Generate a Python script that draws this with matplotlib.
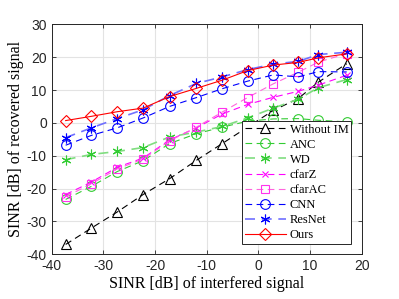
import matplotlib
matplotlib.use("Agg")
import matplotlib.pyplot as plt

# input SINR (x axis) and output SINR per method
sinr_in = [-37.3, -32.3, -27.3, -22.3, -17.2, -12.0, -7.0, -2.1, 2.9, 7.7, 11.6, 17.1]

without_im = [-37.0, -32.0, -27.1, -21.8, -17.0, -11.4, -6.3, -1.3, 3.8, 7.4, 12.4, 18.0]
anc = [-23.3, -19.3, -14.8, -11.5, -6.3, -3.3, -1.3, 0.5, 1.2, 1.3, 0.8, 0.3]
wd = [-11.2, -9.6, -8.7, -7.5, -4.3, -2.8, -1.1, 1.5, 4.5, 7.2, 10.7, 13.2]
cfarz = [-21.8, -18.0, -13.5, -10.7, -5.2, -1.5, 2.7, 5.6, 7.8, 9.6, 11.5, 14.5]
cfarac = [-22.5, -18.5, -14.0, -11.0, -5.5, -1.3, 3.3, 7.7, 11.9, 15.4, 18.5, 21.1]
cnn = [-6.8, -3.8, -1.5, 1.5, 5.0, 7.7, 10.4, 12.7, 14.6, 14.0, 15.6, 15.5]
resnet = [-4.5, -1.5, 1.3, 4.0, 8.3, 12.0, 14.0, 16.2, 17.9, 18.7, 20.8, 21.5]
ours = [0.7, 2.0, 3.4, 4.5, 8.0, 10.5, 13.0, 15.9, 17.6, 18.4, 19.8, 21.0]

plt.rcParams['axes.unicode_minus'] = False

fig = plt.figure(figsize=(3.99, 2.99), dpi=100)
ax = fig.add_axes([0.1296, 0.1495, 0.777, 0.7692])

dash = (0, (6, 4))
ms = 7
ax.plot(sinr_in, without_im, color='k', ls=dash, lw=0.8, marker='^', ms=ms, mfc='none', mew=0.8, label='Without IM')
ax.plot(sinr_in, anc, color='#33cc33', ls=dash, lw=0.8, marker='o', ms=ms, mfc='none', mew=0.8, label='ANC')
ax.plot(sinr_in, wd, color='#80dd80', ls=dash, lw=1.2, marker=(6, 2, 0), ms=ms, mec='#33cc33', mew=0.8, label='WD')
ax.plot(sinr_in, cfarz, color='#ff00ff', ls=dash, lw=0.8, marker='x', ms=5, mew=0.8, label='cfarZ')
ax.plot(sinr_in, cfarac, color='#ff66dd', ls=dash, lw=0.8, marker='s', ms=6, mfc='none', mec='#ff33ee', mew=0.8, label='cfarAC')
ax.plot(sinr_in, cnn, color='#0000ff', ls=dash, lw=0.8, marker='o', ms=ms, mfc='none', mew=0.8, label='CNN')
ax.plot(sinr_in, resnet, color='#7070ff', ls=dash, lw=1.2, marker=(6, 2, 0), ms=ms, mec='#0000ff', mew=0.8, label='ResNet')
ax.plot(sinr_in, ours, color='#ff0000', ls='-', lw=0.8, marker='D', ms=6.5, mfc='none', mew=0.8, label='Ours')

ax.set_xlim(-40, 20)
ax.set_ylim(-40, 30)
ax.set_xticks(range(-40, 21, 10))
ax.set_yticks(range(-40, 31, 10))
ax.grid(True, color='#e3e3e3', lw=0.8)
ax.tick_params(direction='in', top=True, right=True, length=3, width=0.6, labelsize=10, colors='#262626')
for lab in ax.get_xticklabels() + ax.get_yticklabels():
    lab.set_family('Liberation Sans')
for s in ax.spines.values():
    s.set_color('#262626')
    s.set_linewidth(0.7)

ax.set_xlabel('SINR [dB] of interfered signal', family='Liberation Serif', fontsize=11.5, labelpad=2)
ax.set_ylabel('SINR [dB] of recovered signal', family='Liberation Serif', fontsize=11.5, labelpad=2)

leg = ax.legend(loc='lower right', bbox_to_anchor=(0.965, 0.045), prop={'family': 'Liberation Serif', 'size': 9},
                handlelength=3.3, handletextpad=0.3, labelspacing=0.25, borderpad=0.2, borderaxespad=0,
                fancybox=False, framealpha=1, edgecolor='#262626')
leg.get_frame().set_linewidth(0.7)

fig.savefig('out.png', dpi=100)
